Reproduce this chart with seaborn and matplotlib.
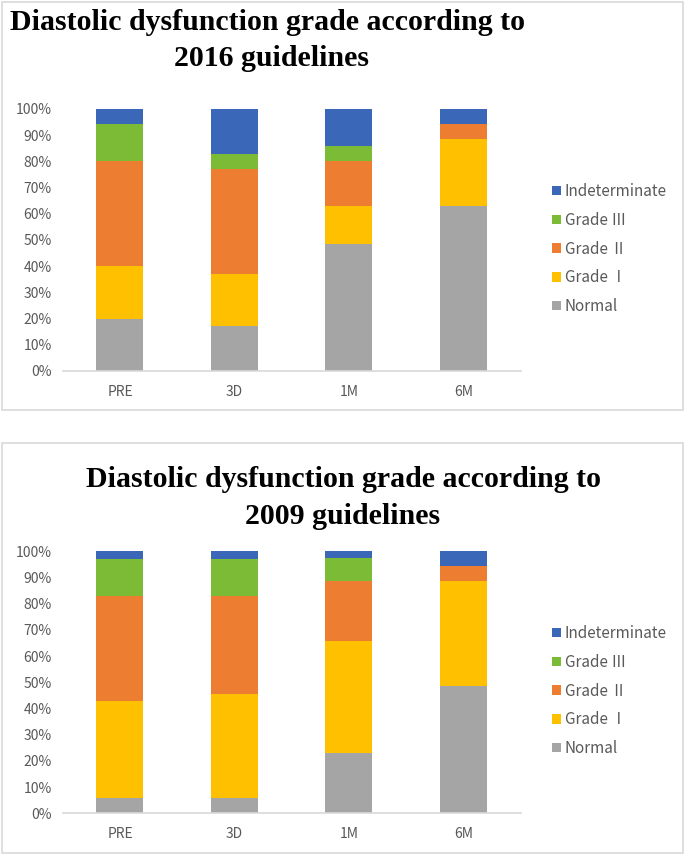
import numpy as np
import pandas as pd
import seaborn as sns
import matplotlib
matplotlib.use("Agg")
import matplotlib.pyplot as plt
from matplotlib.patches import Patch, Rectangle

# ---------------- data ----------------
timepoints = ["PRE", "3D", "1M", "6M"]
series_names = ["Normal", "Grade Ⅰ", "Grade Ⅱ", "Grade Ⅲ", "Indeterminate"]

# 2016 guidelines (percent)
normal_2016 = [20.0, 17.1, 48.6, 62.9]
grade1_2016 = [20.0, 20.0, 14.3, 25.7]
grade2_2016 = [40.0, 40.0, 17.1, 5.7]
grade3_2016 = [14.3, 5.7, 5.7, 0.0]
indet_2016 = [5.7, 17.1, 14.3, 5.7]

# 2009 guidelines (percent)
normal_2009 = [5.7, 5.7, 22.9, 48.6]
grade1_2009 = [37.1, 40.0, 42.9, 40.0]
grade2_2009 = [40.0, 37.1, 22.9, 5.7]
grade3_2009 = [14.3, 14.3, 8.6, 0.0]
indet_2009 = [2.9, 2.9, 2.9, 5.7]

titles = ["Diastolic dysfunction grade according to", "2016 guidelines",
          "Diastolic dysfunction grade according to", "2009 guidelines"]
yticks = list(range(0, 101, 10))
ytick_labels = [f"{v}%" for v in yticks]

colors = {"Normal": "#A5A5A5", "Grade Ⅰ": "#FFC000", "Grade Ⅱ": "#ED7D31",
          "Grade Ⅲ": "#7CBB35", "Indeterminate": "#3A67B8"}

sns.set_theme(style="white")
plt.rcParams['font.family'] = ['Noto Sans CJK SC', 'DejaVu Sans']

W, H = 685, 855
fig = plt.figure(figsize=(W / 100, H / 100), dpi=100)


def fx(px):
    return px / W


def fy(py):
    return 1 - py / H


def draw_panel(ax, seg_lists):
    df = pd.DataFrame({name: vals for name, vals in zip(series_names, seg_lists)},
                      index=timepoints)
    cum = df.cumsum(axis=1)
    # draw from top of stack downward so lower segments overlay upper ones
    for name in reversed(series_names):
        d = pd.DataFrame({"t": timepoints, "v": cum[name].values})
        sns.barplot(data=d, x="t", y="v", color=colors[name], width=0.41,
                    saturation=1, ax=ax, linewidth=0, order=timepoints)
    ax.set_xlim(-0.5, 3.5)
    ax.set_ylim(0, 100)
    ax.set_yticks(yticks)
    ax.set_yticklabels(ytick_labels)
    ax.set_xlabel("")
    ax.set_ylabel("")
    for s in ["top", "right", "left"]:
        ax.spines[s].set_visible(False)
    ax.spines["bottom"].set_color("#D9D9D9")
    ax.spines["bottom"].set_linewidth(1.2)
    ax.tick_params(axis="y", length=0, labelsize=10, labelcolor="#595959", pad=8)
    ax.tick_params(axis="x", which="major", length=0, labelsize=10, labelcolor="#595959", pad=10)
    ax.set_xticks([-0.5, 0.5, 1.5, 2.5, 3.5], minor=True)
    ax.tick_params(axis="x", which="minor", length=5, color="#D9D9D9", width=1.2)
    ax.grid(False)
    handles = [Patch(facecolor=colors[n], edgecolor="none", label=n)
               for n in reversed(series_names)]
    return handles


# panel borders
for (top, bot) in [(2, 410), (443, 853)]:
    fig.add_artist(Rectangle((fx(2), fy(bot)), fx(681), (bot - top) / H,
                             transform=fig.transFigure, fill=False,
                             edgecolor="#D9D9D9", linewidth=1.2))

ax1 = fig.add_axes([fx(62.7), fy(371), fx(458), (371 - 109) / H])
ax2 = fig.add_axes([fx(62.7), fy(813.3), fx(458), (813.3 - 551.3) / H])

h1 = draw_panel(ax1, [normal_2016, grade1_2016, grade2_2016, grade3_2016, indet_2016])
h2 = draw_panel(ax2, [normal_2009, grade1_2009, grade2_2009, grade3_2009, indet_2009])

for handles, ycen in [(h1, 249), (h2, 691)]:
    fig.legend(handles=handles, loc="center left", bbox_to_anchor=(fx(538), fy(ycen)),
               frameon=False, fontsize=11, handlelength=0.6, handleheight=0.6,
               handletextpad=0.25, labelspacing=0.77, labelcolor="#595959")

tfont = dict(family="Liberation Serif", weight="bold", fontsize=21.5, color="black",
             ha="center", va="center")
fig.text(fx(268), fy(23), titles[0], **tfont)
fig.text(fx(272), fy(59), titles[1], **tfont)
fig.text(fx(343), fy(479), titles[2], **tfont)
fig.text(fx(343), fy(516), titles[3], **tfont)

fig.savefig("out.png", dpi=100, facecolor="white")
